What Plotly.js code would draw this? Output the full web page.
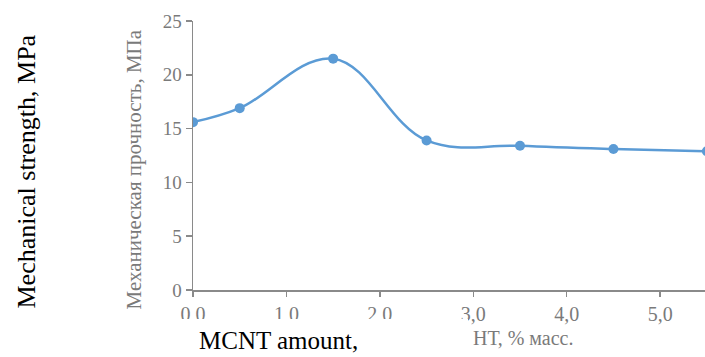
<!DOCTYPE html>
<html>
<head>
<meta charset="utf-8">
<script src="https://cdn.plot.ly/plotly-3.0.1.min.js"></script>
<style>html,body{margin:0;padding:0;background:#fff;}#chart{width:705px;height:357px;}</style>
</head>
<body>
<div id="chart"></div>
<script>
// Data
const mcntAmount = [0, 0.5, 1.5, 2.5, 3.5, 4.5, 5.5];
const strength = [15.6, 16.9, 21.5, 13.9, 13.4, 13.1, 12.9];
const xTickVals = [0, 1, 2, 3, 4, 5];
const xTickText = ['0,0', '1,0', '2,0', '3,0', '4,0', '5,0'];
const yTickVals = [0, 5, 10, 15, 20, 25];

const axisGray = '#8a8a8a';
const labelGray = '#7a7a7a';
const serif = '"Liberation Serif", "Times New Roman", serif';

const trace = {
  x: mcntAmount,
  y: strength,
  type: 'scatter',
  mode: 'lines+markers',
  line: {color: '#5b9bd5', width: 2.5, shape: 'spline', smoothing: 1.1},
  marker: {color: '#5b9bd5', size: 10},
  hoverinfo: 'skip'
};

const layout = {
  width: 705,
  height: 357,
  margin: {l: 193, r: 0, t: 21, b: 67},
  paper_bgcolor: '#ffffff',
  plot_bgcolor: '#ffffff',
  showlegend: false,
  xaxis: {
    range: [0, 5.48],
    tickvals: xTickVals,
    ticktext: xTickText,
    showgrid: false,
    zeroline: false,
    showline: true,
    linecolor: axisGray,
    linewidth: 1.5,
    ticks: 'outside',
    ticklen: 5,
    tickwidth: 1.5,
    tickcolor: axisGray,
    tickfont: {family: serif, size: 20, color: labelGray}
  },
  yaxis: {
    range: [0, 25],
    tickvals: yTickVals,
    showgrid: false,
    zeroline: false,
    showline: true,
    linecolor: axisGray,
    linewidth: 1.5,
    ticks: 'outside',
    ticklen: 6,
    tickwidth: 1.5,
    tickcolor: axisGray,
    tickfont: {family: serif, size: 19, color: labelGray}
  },
  shapes: [
    {type: 'rect', xref: 'paper', yref: 'paper', layer: 'above',
     x0: -193/512, x1: 275/512, y0: -67/269, y1: -29/269,
     fillcolor: '#ffffff', line: {width: 0}}
  ],
  annotations: [
    {text: 'Механическая прочность, МПа', xref: 'paper', yref: 'paper',
     x: -60/512, y: 0.5, yshift: -14, textangle: -90, showarrow: false,
     xanchor: 'center', yanchor: 'middle',
     font: {family: serif, size: 21, color: labelGray}},
    {text: 'Mechanical strength, MPa', xref: 'paper', yref: 'paper',
     x: -167/512, y: 0.5, yshift: -16, textangle: -90, showarrow: false,
     xanchor: 'center', yanchor: 'middle',
     font: {family: serif, size: 26, color: '#000000'}},
    {text: 'MCNT amount,', xref: 'paper', yref: 'paper',
     x: 4/512, y: -50/269, showarrow: false,
     xanchor: 'left', yanchor: 'middle',
     font: {family: serif, size: 25, color: '#000000'}},
    {text: 'НТ, % масс.', xref: 'paper', yref: 'paper',
     x: 278/512, y: -48/269, showarrow: false,
     xanchor: 'left', yanchor: 'middle',
     font: {family: serif, size: 20, color: labelGray}}
  ]
};

Plotly.newPlot('chart', [trace], layout, {displayModeBar: false, staticPlot: true});
</script>
</body>
</html>
